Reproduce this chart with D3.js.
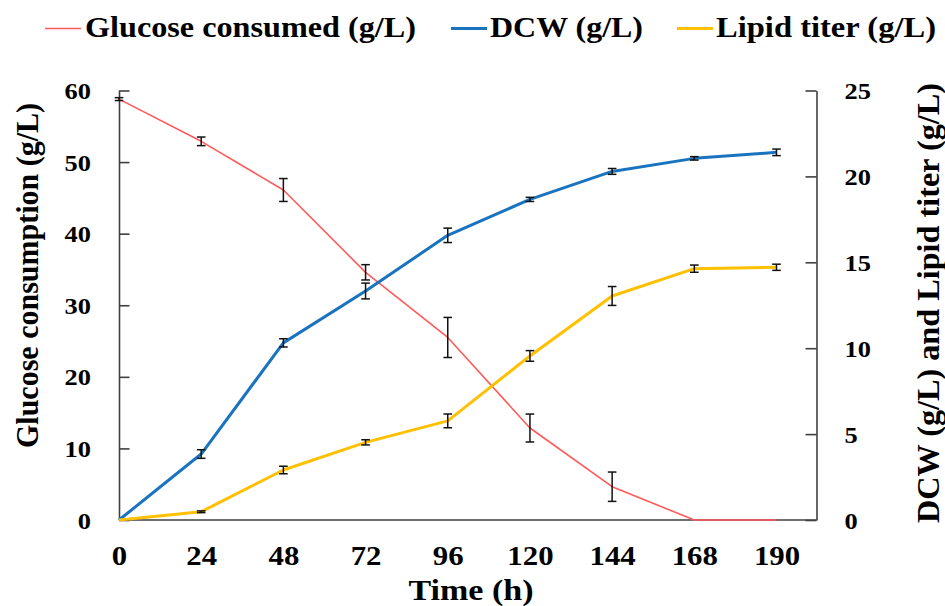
<!DOCTYPE html>
<html>
<head>
<meta charset="utf-8">
<script src="https://cdn.jsdelivr.net/npm/d3@7"></script>
<style>
  html, body { margin: 0; padding: 0; background: #fff; }
  svg { display: block; }
  text { font-family: "Liberation Serif", "Times New Roman", serif; font-weight: bold; fill: #000; }
</style>
</head>
<body>
<svg id="chart" width="945" height="606"></svg>
<script>
// Sampling times (h)
const timeLabels = ["0", "24", "48", "72", "96", "120", "144", "168", "190"];

// Glucose consumed (g/L), left axis
const glucose    = [58.8, 52.9, 46.1, 34.6, 25.5, 12.85, 4.65, 0, 0];
const glucoseErr = [0.2, 0.6, 1.6, 1.07, 2.8, 1.95, 2.05, 0, 0];

// Dry cell weight (g/L), right axis
const dcw    = [0, 3.84, 10.31, 13.33, 16.57, 18.66, 20.29, 21.05, 21.4];
const dcwErr = [0, 0.25, 0.24, 0.46, 0.42, 0.12, 0.17, 0.1, 0.19];

// Lipid titer (g/L), right axis
const lipid    = [0, 0.48, 2.91, 4.52, 5.77, 9.55, 13.04, 14.63, 14.71];
const lipidErr = [0, 0.05, 0.22, 0.15, 0.4, 0.31, 0.55, 0.21, 0.18];

const leftTicks  = [0, 10, 20, 30, 40, 50, 60];
const rightTicks = [0, 5, 10, 15, 20, 25];

const seriesNames = ["Glucose consumed (g/L)", "DCW (g/L)", "Lipid titer (g/L)"];
const colors = { glucose: "#FF5A5A", dcw: "#1A73BF", lipid: "#FFC000" };

const svg = d3.select("#chart");
const plotLeft = 119, plotRight = 816.5, plotTop = 90.5, plotBottom = 520;
const axisColor = "#404040";
const stretch = 1.1;

const x = d3.scalePoint().domain(timeLabels).range([plotLeft, 776.5]).padding(0);
const yL = d3.scaleLinear().domain([0, 60]).range([plotBottom, plotTop]);
const yR = d3.scaleLinear().domain([0, 25]).range([plotBottom, plotTop]);

// Axes
const gL = svg.append("g").attr("transform", `translate(${plotLeft},0)`)
  .call(d3.axisLeft(yL).tickValues(leftTicks).tickSizeInner(-10.5).tickSizeOuter(0).tickPadding(28));
const gR = svg.append("g").attr("transform", `translate(${plotRight},0)`)
  .call(d3.axisRight(yR).tickValues(rightTicks).tickSizeInner(-11).tickSizeOuter(0).tickPadding(28));
const gB = svg.append("g").attr("transform", `translate(0,${plotBottom})`)
  .call(d3.axisBottom(x).tickSize(0));

[gL, gR, gB].forEach(g => {
  g.attr("font-family", null).attr("font-size", null);
  g.selectAll("path.domain, line").attr("stroke", axisColor).attr("stroke-width", 1.6);
});
gB.select("path.domain").remove();

gL.selectAll("text").attr("x", null).attr("dy", "0.34em")
  .style("font-size", "24px")
  .attr("transform", `translate(-28,0) scale(${stretch},1)`);
gR.selectAll("text").attr("x", null).attr("dy", "0.34em")
  .style("font-size", "24px")
  .attr("transform", `translate(28,0) scale(${stretch},1)`);
gB.selectAll("text").attr("y", null).attr("dy", null)
  .style("font-size", "28px")
  .attr("transform", `translate(0,45) scale(${stretch},1)`);

// Bottom frame line
svg.append("line")
  .attr("x1", plotLeft).attr("x2", plotRight)
  .attr("y1", plotBottom).attr("y2", plotBottom)
  .attr("stroke", axisColor).attr("stroke-width", 1.6);

// Series lines with error bars
function drawSeries(values, errs, yScale, color, width) {
  const line = d3.line().x((d, i) => x(timeLabels[i])).y(d => yScale(d));
  svg.append("path").datum(values)
    .attr("d", line).attr("fill", "none")
    .attr("stroke", color).attr("stroke-width", width)
    .attr("stroke-linejoin", "round");
  const eb = svg.append("g").attr("stroke", "#111").attr("stroke-width", 1.5);
  values.forEach((v, i) => {
    const e = errs[i];
    if (!e) return;
    const cx = x(timeLabels[i]);
    const y1 = yScale(v - e), y2 = yScale(v + e);
    eb.append("line").attr("x1", cx).attr("x2", cx).attr("y1", y1).attr("y2", y2);
    eb.append("line").attr("x1", cx - 4.3).attr("x2", cx + 4.3).attr("y1", y1).attr("y2", y1);
    eb.append("line").attr("x1", cx - 4.3).attr("x2", cx + 4.3).attr("y1", y2).attr("y2", y2);
  });
}
drawSeries(glucose, glucoseErr, yL, colors.glucose, 1.6);
drawSeries(dcw, dcwErr, yR, colors.dcw, 3);
drawSeries(lipid, lipidErr, yR, colors.lipid, 3);

// Text helper with fixed rendered length
function label(str, tx, ty, size, len, rotate, anchor) {
  const g = svg.append("g").attr("transform", `translate(${tx},${ty})${rotate ? " rotate(-90)" : ""}`);
  g.append("text").text(str)
    .attr("text-anchor", anchor || "start")
    .style("font-size", size + "px")
    .attr("textLength", len).attr("lengthAdjust", "spacingAndGlyphs");
}

// Axis titles
label("Time (h)", 471, 600, 30, 125, false, "middle");
label("Glucose consumption (g/L)", 38, 275.5, 31, 345, true, "middle");
label("DCW (g/L) and  Lipid titer (g/L)", 939, 303, 31, 440, true, "middle");

// Legend
const legend = [
  { name: seriesNames[0], color: colors.glucose, w: 1.6, x0: 45, x1: 81, tx: 85, len: 331 },
  { name: seriesNames[1], color: colors.dcw, w: 3, x0: 451, x1: 487, tx: 490, len: 153 },
  { name: seriesNames[2], color: colors.lipid, w: 3, x0: 677, x1: 713, tx: 716, len: 220 }
];
legend.forEach(l => {
  svg.append("line").attr("x1", l.x0).attr("x2", l.x1).attr("y1", 28.5).attr("y2", 28.5)
    .attr("stroke", l.color).attr("stroke-width", l.w);
  label(l.name, l.tx, 37, 29, l.len, false, "start");
});
</script>
</body>
</html>
